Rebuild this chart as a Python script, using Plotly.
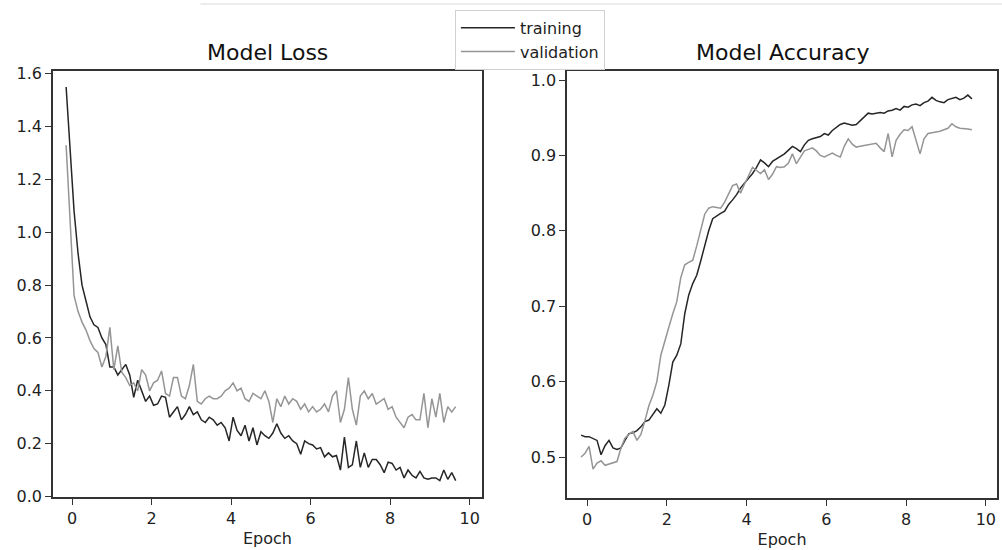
import plotly.graph_objects as go

# Epoch positions of the logged points
epochs = [round(-0.15 + 0.1 * i, 2) for i in range(99)]

loss_training = [
    1.55, 1.30, 1.08, 0.92, 0.80, 0.74, 0.68, 0.65, 0.64, 0.60,
    0.575, 0.49, 0.49, 0.46, 0.48, 0.50, 0.46, 0.375, 0.44, 0.40,
    0.36, 0.38, 0.345, 0.35, 0.38, 0.375, 0.30, 0.32, 0.34, 0.29,
    0.31, 0.34, 0.31, 0.32, 0.29, 0.28, 0.30, 0.29, 0.27, 0.28,
    0.26, 0.21, 0.30, 0.25, 0.23, 0.27, 0.21, 0.26, 0.195, 0.245,
    0.23, 0.22, 0.24, 0.275, 0.24, 0.22, 0.23, 0.21, 0.20, 0.16,
    0.21, 0.20, 0.195, 0.18, 0.185, 0.15, 0.165, 0.15, 0.155, 0.10,
    0.225, 0.11, 0.12, 0.21, 0.11, 0.165, 0.11, 0.14, 0.14, 0.12,
    0.09, 0.13, 0.125, 0.10, 0.11, 0.07, 0.10, 0.08, 0.07, 0.095,
    0.07, 0.065, 0.07, 0.07, 0.06, 0.10, 0.065, 0.09, 0.06,
]

loss_validation = [
    1.33, 1.05, 0.76, 0.70, 0.66, 0.63, 0.59, 0.56, 0.545, 0.49,
    0.53, 0.64, 0.48, 0.57, 0.47, 0.45, 0.42, 0.43, 0.40, 0.48,
    0.46, 0.40, 0.43, 0.44, 0.475, 0.39, 0.38, 0.45, 0.45, 0.38,
    0.37, 0.42, 0.50, 0.36, 0.35, 0.37, 0.38, 0.37, 0.37, 0.38,
    0.40, 0.41, 0.43, 0.40, 0.41, 0.37, 0.36, 0.39, 0.38, 0.37,
    0.40, 0.36, 0.28, 0.37, 0.34, 0.38, 0.35, 0.37, 0.36, 0.33,
    0.35, 0.32, 0.34, 0.32, 0.33, 0.35, 0.32, 0.38, 0.40, 0.28,
    0.33, 0.45, 0.33, 0.27, 0.38, 0.40, 0.37, 0.39, 0.35, 0.36,
    0.37, 0.33, 0.34, 0.30, 0.28, 0.26, 0.30, 0.31, 0.29, 0.29,
    0.39, 0.26, 0.37, 0.30, 0.39, 0.28, 0.34, 0.32, 0.34,
]

acc_training = [
    0.529, 0.527, 0.527, 0.524, 0.522, 0.503, 0.515, 0.522, 0.512, 0.510,
    0.512, 0.522, 0.531, 0.532, 0.535, 0.540, 0.547, 0.549, 0.556, 0.564,
    0.558, 0.569, 0.595, 0.626, 0.635, 0.650, 0.690, 0.715, 0.730, 0.741,
    0.760, 0.782, 0.800, 0.816, 0.820, 0.823, 0.826, 0.835, 0.841, 0.848,
    0.857, 0.863, 0.870, 0.876, 0.884, 0.894, 0.890, 0.885, 0.892, 0.895,
    0.898, 0.902, 0.907, 0.912, 0.909, 0.905, 0.914, 0.920, 0.922, 0.923,
    0.925, 0.929, 0.927, 0.933, 0.937, 0.941, 0.943, 0.941, 0.940, 0.941,
    0.946, 0.950, 0.956, 0.955, 0.956, 0.957, 0.956, 0.959, 0.960, 0.962,
    0.960, 0.965, 0.964, 0.967, 0.968, 0.966, 0.970, 0.972, 0.977, 0.973,
    0.971, 0.970, 0.974, 0.975, 0.977, 0.974, 0.976, 0.980, 0.975,
]

acc_validation = [
    0.500, 0.505, 0.514, 0.484, 0.492, 0.495, 0.489, 0.491, 0.493, 0.494,
    0.512, 0.525, 0.530, 0.534, 0.522, 0.530, 0.548, 0.568, 0.582, 0.600,
    0.635, 0.655, 0.672, 0.690, 0.706, 0.738, 0.755, 0.758, 0.761, 0.780,
    0.800, 0.822, 0.830, 0.832, 0.831, 0.830, 0.838, 0.848, 0.860, 0.862,
    0.850, 0.862, 0.872, 0.884, 0.880, 0.876, 0.881, 0.868, 0.875, 0.885,
    0.884, 0.885, 0.890, 0.902, 0.889, 0.898, 0.906, 0.908, 0.910, 0.906,
    0.900, 0.898, 0.900, 0.903, 0.900, 0.898, 0.912, 0.922, 0.915, 0.911,
    0.912, 0.913, 0.914, 0.915, 0.916, 0.910, 0.905, 0.929, 0.898, 0.920,
    0.928, 0.934, 0.933, 0.938, 0.920, 0.902, 0.922, 0.929, 0.930, 0.931,
    0.932, 0.934, 0.936, 0.942, 0.938, 0.936, 0.936, 0.935, 0.934,
]

x_ticks = [0, 2, 4, 6, 8, 10]
loss_ticks = [0.0, 0.2, 0.4, 0.6, 0.8, 1.0, 1.2, 1.4, 1.6]
acc_ticks = [0.5, 0.6, 0.7, 0.8, 0.9, 1.0]

TRAIN_COLOR = "#262626"
VAL_COLOR = "#959595"
FONT = "DejaVu Sans"

fig = go.Figure()
fig.add_trace(go.Scatter(x=epochs, y=loss_training, mode="lines", name="training",
                         line=dict(color=TRAIN_COLOR, width=1.5), xaxis="x", yaxis="y"))
fig.add_trace(go.Scatter(x=epochs, y=loss_validation, mode="lines", name="validation",
                         line=dict(color=VAL_COLOR, width=1.5), xaxis="x", yaxis="y"))
fig.add_trace(go.Scatter(x=epochs, y=acc_training, mode="lines", name="training",
                         showlegend=False,
                         line=dict(color=TRAIN_COLOR, width=1.5), xaxis="x2", yaxis="y2"))
fig.add_trace(go.Scatter(x=epochs, y=acc_validation, mode="lines", name="validation",
                         showlegend=False,
                         line=dict(color=VAL_COLOR, width=1.5), xaxis="x2", yaxis="y2"))

axis_common = dict(showline=True, linecolor="#333333", linewidth=1.6, mirror=True,
                   ticks="outside", ticklen=6, tickwidth=1.3, tickcolor="#333333",
                   showgrid=False, zeroline=False, automargin=False,
                   tickfont=dict(family=FONT, size=16, color="#1e1e1e"))

fig.update_layout(
    width=1002, height=550,
    margin=dict(l=0, r=0, t=0, b=0, autoexpand=False),
    paper_bgcolor="white", plot_bgcolor="white",
    font=dict(family=FONT, color="#222222"),
    xaxis=dict(domain=[0.0529, 0.481], range=[-0.48, 10.31], tickvals=x_ticks,
               ticktext=[str(t) for t in x_ticks],
               title=dict(text="Epoch", font=dict(family=FONT, size=16), standoff=6),
               anchor="y", **axis_common),
    yaxis=dict(domain=[0.0964, 0.871], range=[-0.002, 1.611], tickvals=loss_ticks,
               ticktext=[f"{t:.1f}" for t in loss_ticks], anchor="x", **axis_common),
    xaxis2=dict(domain=[0.566, 0.995], range=[-0.5, 10.28], tickvals=x_ticks,
                ticktext=[str(t) for t in x_ticks],
                title=dict(text="Epoch", font=dict(family=FONT, size=16), standoff=6),
                anchor="y2", **axis_common),
    yaxis2=dict(domain=[0.0945, 0.871], range=[0.4456, 1.012], tickvals=acc_ticks,
                ticktext=[f"{t:.1f}" for t in acc_ticks], anchor="x2", **axis_common),
    legend=dict(x=0.454, y=0.982, xanchor="left", yanchor="top",
                bgcolor="rgba(255,255,255,0.9)", bordercolor="#d0d0d0", borderwidth=1,
                font=dict(family=FONT, size=16, color="#1e1e1e"),
                itemwidth=54, tracegroupgap=0),
    annotations=[
        dict(text="Model Loss", x=0.267, y=1 - 53 / 550, xref="paper", yref="paper",
             xanchor="center", yanchor="middle", showarrow=False,
             font=dict(family=FONT, size=22, color="#111111")),
        dict(text="Model Accuracy", x=0.781, y=1 - 53 / 550, xref="paper", yref="paper",
             xanchor="center", yanchor="middle", showarrow=False,
             font=dict(family=FONT, size=22, color="#111111")),
    ],
    shapes=[
        dict(type="line", xref="paper", yref="paper", x0=0.2, x1=1.0,
             y0=1 - 4 / 550, y1=1 - 4 / 550, line=dict(color="#e6e6e6", width=1.5)),
    ],
)

fig.write_html(
    "out.html",
    config={"displayModeBar": False},
    post_script="document.body.style.margin='0';document.body.style.overflow='hidden';",
)
